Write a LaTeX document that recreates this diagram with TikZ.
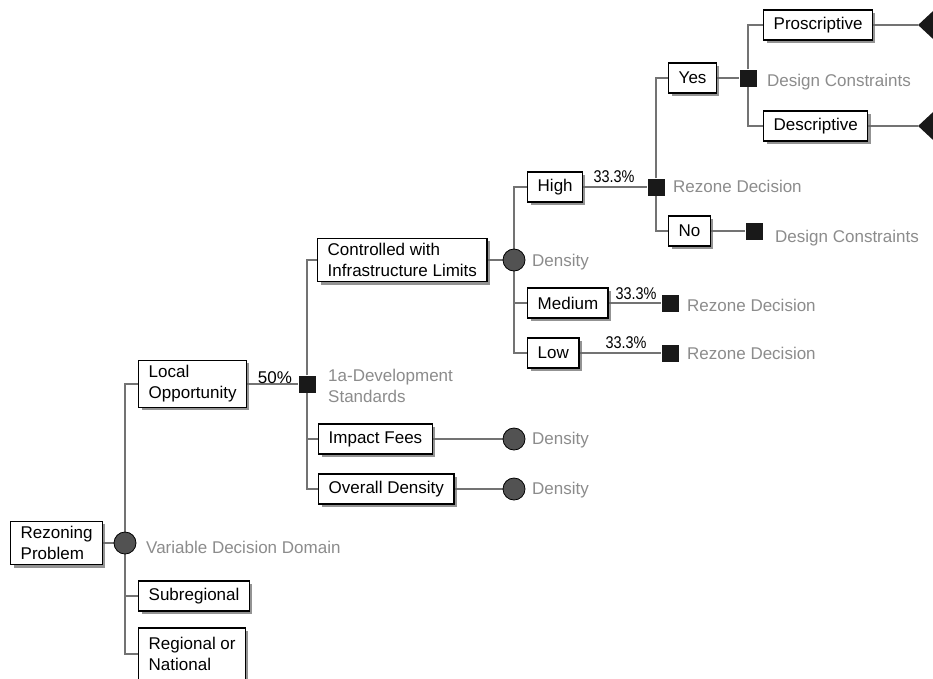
\documentclass[tikz,border=0pt]{standalone}
\usepackage{fontspec}
\setmainfont{Liberation Sans}
\usetikzlibrary{shapes.geometric,shadows,backgrounds}
\begin{document}
\begin{tikzpicture}[x=1pt,y=-1pt,
  every node/.style={font=\fontsize{17}{21}\selectfont},
  box/.style={draw=black, line width=1.4pt, fill=white, align=left,
    inner xsep=10pt, inner ysep=5pt, minimum height=30pt, anchor=west,
    drop shadow={shadow xshift=2.8pt, shadow yshift=-2.8pt, fill=black!60, opacity=0.7}},
  chance/.style={circle, draw=black, line width=0.8pt, fill=black!68,
    minimum size=22pt, inner sep=0pt},
  decision/.style={rectangle, fill=black!90, minimum size=17pt, inner sep=0pt},
  terminal/.style={diamond, fill=black!90, minimum width=30pt,
    minimum height=28pt, inner sep=0pt},
  tag/.style={text=black!45, align=left, inner sep=0pt},
  prob/.style={anchor=base, inner sep=0pt},
  link/.style={draw=black!55, line width=1.8pt},
]
\useasboundingbox (0,0) rectangle (933,678);

% root and first chance node
\node[box] (rp) at (10,543) {Rezoning\\Problem};
\node[chance] (c0) at (125,543) {};
\node[tag, anchor=base west] (t0) at (146,553) {Variable Decision Domain};

\node[box] (lo) at (138,384) {Local\\Opportunity};
\node[box] (sr) at (138,596) {Subregional};
\node[box, minimum height=52pt] (rn) at (138,654) {Regional or\\National};

% development standards decision
\node[decision] (s1) at (307,384) {};
\node[prob] (p1) at (275,383) {50\%};
\node[tag, anchor=west] (t1) at (328,386) {1a-Development\\Standards};

\node[box] (cil) at (317,260) {Controlled with\\Infrastructure Limits};
\node[box] (if) at (318,439) {Impact Fees};
\node[box] (od) at (318,489) {Overall Density};

% density chance nodes
\node[chance] (c1) at (514,260) {};
\node[tag, anchor=base west] (t2) at (532,266) {Density};
\node[chance] (c2) at (514,439) {};
\node[tag, anchor=base west] (t3) at (532,444) {Density};
\node[chance] (c3) at (514,489) {};
\node[tag, anchor=base west] (t4) at (532,494) {Density};

\node[box] (hi) at (527,187) {High};
\node[box] (me) at (527,303) {Medium};
\node[box] (lw) at (527,353) {Low};

% rezone decisions
\node[decision] (s2) at (656,187) {};
\node[prob] (p2) at (614,182) {\scalebox{0.85}[1]{33.3\%}};
\node[tag, anchor=base west] (t5) at (673,192) {Rezone Decision};

\node[decision] (s5) at (670,303) {};
\node[prob] (p5) at (636,299) {\scalebox{0.85}[1]{33.3\%}};
\node[tag, anchor=base west] (t6) at (687,311) {Rezone Decision};

\node[decision] (s6) at (670,353) {};
\node[prob] (p6) at (626,348) {\scalebox{0.85}[1]{33.3\%}};
\node[tag, anchor=base west] (t7) at (687,359) {Rezone Decision};

\node[box] (ye) at (668,78) {Yes};
\node[box] (no) at (668,231) {No};

% design constraints
\node[decision] (s3) at (748,78) {};
\node[tag, anchor=base west] (t8) at (767,86) {Design Constraints};
\node[decision] (s4) at (754,231) {};
\node[tag, anchor=base west] (t9) at (775,242) {Design Constraints};

\node[box] (pr) at (763,25) {Proscriptive};
\node[box] (de) at (763,126) {Descriptive};

\node[terminal] (d1) at (933,25) {};
\node[terminal] (d2) at (933,126) {};

\begin{scope}[on background layer]
  \fill[white] (0,0) rectangle (933,678);
  \draw[link] (rp.east) -- (c0);
  \draw[link] (c0) |- (lo.west);
  \draw[link] (c0) |- (sr.west);
  \draw[link] (c0) |- (rn.west);
  \draw[link] (lo.east) -- (s1);
  \draw[link] (s1) |- (cil.west);
  \draw[link] (s1) |- (if.west);
  \draw[link] (s1) |- (od.west);
  \draw[link] (cil.east) -- (c1);
  \draw[link] (if.east) -- (c2);
  \draw[link] (od.east) -- (c3);
  \draw[link] (c1) |- (hi.west);
  \draw[link] (c1) |- (me.west);
  \draw[link] (c1) |- (lw.west);
  \draw[link] (hi.east) -- (s2);
  \draw[link] (me.east) -- (s5);
  \draw[link] (lw.east) -- (s6);
  \draw[link] (s2) |- (ye.west);
  \draw[link] (s2) |- (no.west);
  \draw[link] (ye.east) -- (s3);
  \draw[link] (no.east) -- (s4);
  \draw[link] (s3) |- (pr.west);
  \draw[link] (s3) |- (de.west);
  \draw[link] (pr.east) -- (d1);
  \draw[link] (de.east) -- (d2);
\end{scope}
\end{tikzpicture}
\end{document}
